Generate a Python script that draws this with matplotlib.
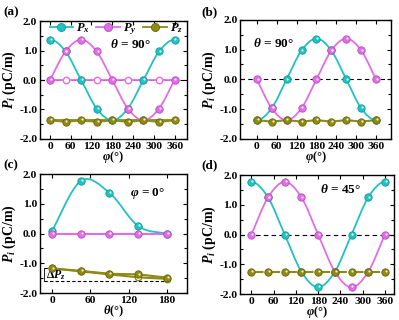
import numpy as np
import matplotlib
matplotlib.use("Agg")
import matplotlib.pyplot as plt
from matplotlib.path import Path
from matplotlib.patches import PathPatch
from matplotlib.lines import Line2D
from matplotlib.ticker import MultipleLocator
from matplotlib.transforms import offset_copy

plt.rcParams['font.family'] = ['Liberation Serif', 'DejaVu Serif']
plt.rcParams['font.weight'] = 'bold'
plt.rcParams['axes.labelweight'] = 'bold'
plt.rcParams['mathtext.fontset'] = 'custom'
plt.rcParams['mathtext.rm'] = 'Liberation Serif:bold'
plt.rcParams['mathtext.it'] = 'Liberation Serif:italic:bold'
plt.rcParams['mathtext.bf'] = 'Liberation Serif:bold'

# data
phi = [0, 45, 90, 135, 180, 225, 270, 315, 360]
theta = [0, 45, 90, 135, 180]

a_px = [1.37, 0.97, 0.0, -0.97, -1.37, -0.97, 0.0, 0.97, 1.37]
a_py = [0.0, 0.97, 1.37, 0.97, 0.0, -0.97, -1.37, -0.97, 0.0]
a_pz = [-1.37, -1.42, -1.37, -1.42, -1.37, -1.42, -1.37, -1.42, -1.37]
a_zero = [0.0, 0.0, 0.0, 0.0, 0.0, 0.0, 0.0, 0.0, 0.0]
a_pz_open = [-1.37, -1.37, -1.37, -1.37, -1.37, -1.37, -1.37, -1.37, -1.37]

b_px = [-1.37, -0.97, 0.0, 0.97, 1.37, 0.97, 0.0, -0.97, -1.37]
b_py = [0.0, -0.97, -1.37, -0.97, 0.0, 0.97, 1.37, 0.97, 0.0]
b_pz = [-1.37, -1.42, -1.37, -1.42, -1.37, -1.42, -1.37, -1.42, -1.37]

c_px = [0.08, 1.77, 1.37, 0.25, 0.0]
c_py = [0.0, 0.0, 0.0, 0.0, 0.0]
c_pz = [-1.17, -1.25, -1.35, -1.37, -1.48]
c_pz_open = [-1.17, -1.27, -1.37, -1.47, -1.52]
c_dp = [-1.17, -1.60]   # delta Pz bracket levels

d_px = [1.77, 1.25, 0.0, -1.25, -1.77, -1.25, 0.0, 1.25, 1.77]
d_py = [0.0, 1.25, 1.77, 1.25, 0.0, -1.25, -1.77, -1.25, 0.0]
d_pz = [-1.25, -1.25, -1.25, -1.25, -1.25, -1.25, -1.25, -1.25, -1.25]

CX = '#20c2c2'
CY = '#e26ee6'
CZ = '#8e8a14'
EDGE = {CX: '#139c9c', CY: '#b84fbf', CZ: '#6a6608'}
MS = 5.3


def smooth(ax, x, y, color, periodic=False, lw=1.3):
    """Catmull-Rom curve through the points, drawn as a bezier path."""
    x = np.asarray(x, float)
    y = np.asarray(y, float)
    pts = np.column_stack([x, y])
    n = len(pts)
    if periodic:
        before = pts[n - 2] - [x[-1] - x[0], 0]
        after = pts[1] + [x[-1] - x[0], 0]
    else:
        before = pts[0]
        after = pts[-1]
    ext = np.vstack([before, pts, after])
    verts = [pts[0]]
    codes = [Path.MOVETO]
    for i in range(1, n):
        p0, p1, p2, p3 = ext[i - 1], ext[i], ext[i + 1], ext[i + 2]
        verts += [p1 + (p2 - p0) / 6, p2 - (p3 - p1) / 6, p2]
        codes += [Path.CURVE4] * 3
    ax.add_patch(PathPatch(Path(verts, codes), fc='none', ec=color, lw=lw, zorder=2))


def balls(ax, x, y, color, z=4):
    ax.plot(x, y, 'o', ms=MS, mfc=color, mec=EDGE[color], mew=0.6, zorder=z)
    tr = offset_copy(ax.transData, fig=ax.figure, x=0.6, y=0.6, units='points')
    ax.plot(x, y, 'o', ms=1.6, mfc='white', mec='none', alpha=0.85, transform=tr, zorder=z + 0.1)


def hollow(ax, x, y, color, z=3):
    ax.plot(x, y, 'o', ms=4.6, mfc='white', mec=color, mew=1.0, zorder=z)


def style(ax, xlim, xticks, xlabel):
    ax.set_xlim(*xlim)
    ax.set_ylim(-2.0, 2.0)
    ax.set_xticks(xticks)
    ax.set_yticks([-2.0, -1.0, 0.0, 1.0, 2.0])
    ax.set_yticklabels(['-2.0', '-1.0', '0.0', '1.0', '2.0'])
    ax.yaxis.set_minor_locator(MultipleLocator(0.5))
    ax.tick_params(which='both', direction='in', top=True, right=True, labelsize=8.2, width=0.8, pad=2)
    ax.tick_params(which='major', length=3)
    ax.tick_params(axis='y', which='minor', length=2)
    for s in ax.spines.values():
        s.set_linewidth(1.0)
    ax.set_xlabel(xlabel, fontsize=9, labelpad=-1)
    ax.set_ylabel(r'$P_i$ (pC/m)', fontsize=10, labelpad=1)


fig = plt.figure(figsize=(3.99, 3.2), dpi=100)
ax_a = fig.add_axes([0.100, 0.566, 0.368, 0.368])
ax_b = fig.add_axes([0.602, 0.566, 0.378, 0.372])
ax_c = fig.add_axes([0.100, 0.084, 0.368, 0.372])
ax_d = fig.add_axes([0.602, 0.081, 0.386, 0.372])

phi_label = r'$\varphi$(°)'

# (a)
ax = ax_a
ax.axhline(0, color='k', ls='--', lw=0.8, dashes=(4, 3), zorder=1)
ax.plot(phi, a_zero, color=CY, lw=1.3, zorder=2)
hollow(ax, phi, a_zero, CY)
ax.plot(phi, a_pz_open, color=CZ, lw=1.3, zorder=2)
smooth(ax, phi, a_px, CX, periodic=True)
smooth(ax, phi, a_py, CY, periodic=True)
ax.plot(phi, a_pz, color=CZ, lw=1.5, zorder=3)
balls(ax, phi, a_px, CX)
balls(ax, phi, a_py, CY)
balls(ax, phi, a_pz, CZ, z=5)
style(ax, (-29, 395), [0, 60, 120, 180, 240, 300, 360], phi_label)
ax.text(232, 1.2, r'$\theta$ = 90°', fontsize=9.5, ha='center', va='center')
handles = [Line2D([], [], color=c, lw=1.3, marker='o', ms=MS + 0.5, mfc=c, mec=EDGE[c], mew=0.6)
           for c in (CX, CY, CZ)]
ax.legend(handles, [r'$P_x$', r'$P_y$', r'$P_z$'], loc='upper center', ncol=3,
          bbox_to_anchor=(0.52, 1.05), frameon=False, fontsize=9, handlelength=1.9,
          handletextpad=0.25, columnspacing=0.5, borderaxespad=0.1)

# (b)
ax = ax_b
ax.axhline(0, color='k', ls='--', lw=0.8, dashes=(4, 3), zorder=1)
smooth(ax, phi, b_px, CX, periodic=True)
smooth(ax, phi, b_py, CY, periodic=True)
ax.plot(phi, b_pz, color=CZ, lw=1.5, zorder=3)
balls(ax, phi, b_px, CX)
balls(ax, phi, b_py, CY)
balls(ax, phi, b_pz, CZ, z=5)
style(ax, (-50, 405), [0, 60, 120, 180, 240, 300, 360], phi_label)
ax.text(50, 1.2, r'$\theta$ = 90°', fontsize=9.5, ha='center', va='center')

# (c)
ax = ax_c
ax.plot([-13, 0], [c_dp[0], c_dp[0]], color='k', ls='--', lw=0.8, dashes=(3, 2), zorder=1)
ax.plot([-13, 185], [c_dp[1], c_dp[1]], color='k', ls='--', lw=0.8, dashes=(3, 2), zorder=1)
ax.plot([-12, -12], c_dp, color='k', lw=0.6, zorder=1)
ax.text(-10, -1.4, r'$\Delta P_z$', fontsize=8.5, ha='left', va='center')
smooth(ax, theta, c_px, CX)
ax.plot(theta, c_py, color=CY, lw=1.5, zorder=3)
ax.plot(theta, c_pz_open, color=CZ, lw=1.5, zorder=2)
ax.plot(theta, c_pz, color=CZ, lw=1.5, zorder=3)
hollow(ax, theta, c_pz_open, CZ)
balls(ax, theta, c_px, CX)
balls(ax, theta, c_py, CY, z=5)
balls(ax, theta, c_pz, CZ, z=5)
style(ax, (-19, 211), [0, 60, 120, 180], r'$\theta$(°)')
ax.text(150, 1.35, r'$\varphi$ = 0°', fontsize=9.5, ha='center', va='center')

# (d)
ax = ax_d
ax.axhline(0, color='k', ls='--', lw=0.8, dashes=(4, 3), zorder=1)
smooth(ax, phi, d_px, CX, periodic=True)
smooth(ax, phi, d_py, CY, periodic=True)
ax.plot(phi, d_pz, color=CZ, lw=1.5, dashes=(6, 2), zorder=3)
balls(ax, phi, d_px, CX)
balls(ax, phi, d_py, CY)
balls(ax, phi, d_pz, CZ, z=5)
style(ax, (-30, 385), [0, 60, 120, 180, 240, 300, 360], phi_label)
ax.text(240, 1.5, r'$\theta$ = 45°', fontsize=9.5, ha='center', va='center')

for lab, x, y in [('(a)', 0.008, 0.962), ('(b)', 0.505, 0.962),
                  ('(c)', 0.008, 0.483), ('(d)', 0.505, 0.483)]:
    fig.text(x, y, lab, fontsize=9.5, fontweight='bold', ha='left', va='center')

fig.savefig('out.png', dpi=100)
